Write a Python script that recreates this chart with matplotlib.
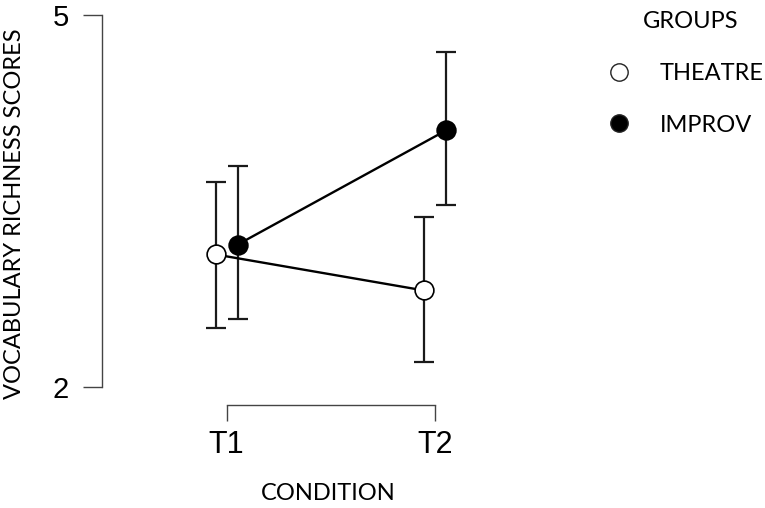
#!/usr/bin/env python3
import matplotlib
matplotlib.use("Agg")
import matplotlib.pyplot as plt
from matplotlib.lines import Line2D

# data
conditions = ["T1", "T2"]
groups = ["THEATRE", "IMPROV"]
theatre_mean = [3.07, 2.78]
theatre_low = [2.48, 2.20]
theatre_high = [3.65, 3.37]
improv_mean = [3.15, 4.07]
improv_low = [2.55, 3.47]
improv_high = [3.78, 4.70]
y_ticks = [2, 5]

fig = plt.figure(figsize=(7.65, 5.08), dpi=100)
ax = fig.add_axes([0.1329, 0.2028, 0.5207, 0.7677])

x = [1, 2]
dodge = 0.053

series = [
    (theatre_mean, theatre_low, theatre_high, "white", -dodge),
    (improv_mean, improv_low, improv_high, "black", dodge),
]
for mean, low, high, face, off in series:
    xs = [v + off for v in x]
    err = [[m - l for m, l in zip(mean, low)], [h - m for m, h in zip(mean, high)]]
    ax.errorbar(xs, mean, yerr=err, fmt="none", ecolor="#1a1a1a",
                elinewidth=1.6, capsize=7.5, capthick=1.6, zorder=2, clip_on=False)
    ax.plot(xs, mean, color="black", lw=1.7, marker="o", ms=13.5,
            mfc=face, mec="black", mew=1.2, zorder=3, clip_on=False)

ax.set_xlim(0.4, 2.312)
ax.set_ylim(1.857, 5.0)

for s in ["top", "right"]:
    ax.spines[s].set_visible(False)
ax.spines["left"].set_bounds(2, 5)
ax.spines["bottom"].set_bounds(1, 2)
for s in ["left", "bottom"]:
    ax.spines[s].set_color("#444444")
    ax.spines[s].set_linewidth(1.0)

ax.set_yticks(y_ticks)
ax.set_yticklabels([str(t) for t in y_ticks], fontsize=21, family="Liberation Sans")
ax.set_xticks(x)
ax.set_xticklabels(conditions, fontsize=22, family="Liberation Sans")
ax.tick_params(axis="y", length=13.4, width=1.0, color="#444444", pad=10)
ax.tick_params(axis="x", length=11.3, width=1.0, color="#444444", pad=7)

fig.text(328 / 765, 1 - 493 / 508, "CONDITION", ha="center", va="center",
         fontsize=17, family="Lato")
fig.text(15 / 765, 1 - 214 / 508, "VOCABULARY RICHNESS SCORES", ha="center",
         va="center", rotation=90, fontsize=17, family="Lato")

# legend
fig.text(643 / 765, 1 - 21 / 508, "GROUPS", ha="left", va="center",
         fontsize=17, family="Lato")
leg_y = [72, 123]
faces = ["white", "black"]
for name, yy, face in zip(groups, leg_y, faces):
    fig.add_artist(Line2D([619 / 765], [1 - yy / 508], marker="o", ms=12.5,
                          mfc=face, mec="#222222", mew=1.0, ls="none",
                          transform=fig.transFigure))
    fig.text(660 / 765, 1 - (yy + 2) / 508, name, ha="left", va="center",
             fontsize=17, family="Lato")

fig.savefig("out.png", dpi=100)
